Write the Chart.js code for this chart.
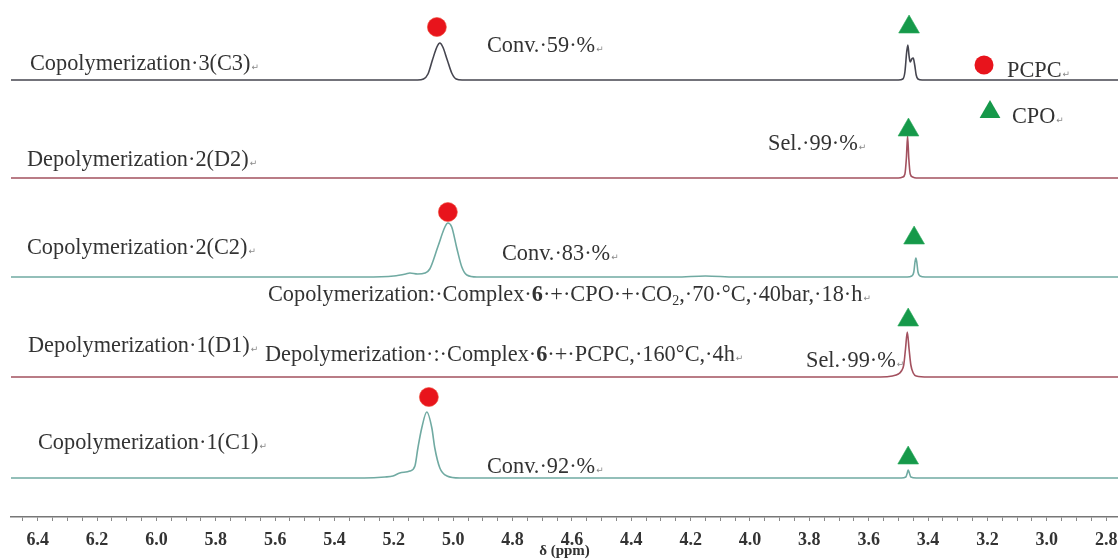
<!DOCTYPE html>
<html><head><meta charset="utf-8">
<script src="https://cdn.jsdelivr.net/npm/chart.js@4"></script>
<style>html,body{margin:0;padding:0;background:#fff}#wrap{width:1118px;height:560px}</style>
</head><body><div id="wrap"><canvas id="c" width="1118" height="560"></canvas></div>
<script>
// ---------- DATA (chemical shift in ppm, intensity above each trace's own baseline) ----------
const traceNames = ['Copolymerization 3 (C3)', 'Depolymerization 2 (D2)', 'Copolymerization 2 (C2)', 'Depolymerization 1 (D1)', 'Copolymerization 1 (C1)'];

const c3Ppm = [6.49, 5.20, 5.12, 5.10, 5.085, 5.07, 5.055, 5.045, 5.035, 5.02, 5.005, 4.99, 4.97, 3.50, 3.485, 3.478, 3.472, 3.468, 3.464, 3.460, 3.455, 3.450, 3.445, 3.440, 3.434, 3.42, 2.76];
const c3Int = [0, 0, 0, 1, 6, 20, 33, 37, 33, 20, 7, 1, 0, 0, 1, 8, 28, 35, 24, 18, 21, 22, 15, 5, 1, 0, 0];

const d2Ppm = [6.49, 3.50, 3.485, 3.478, 3.473, 3.469, 3.465, 3.460, 3.452, 3.44, 2.76];
const d2Int = [0, 0, 1, 4, 20, 42, 20, 4, 1, 0, 0];

const c2Ppm = [6.49, 5.30, 5.20, 5.16, 5.146, 5.12, 5.095, 5.079, 5.052, 5.028, 5.018, 5.005, 4.988, 4.971, 4.954, 4.92, 4.25, 4.15, 4.05, 3.47, 3.455, 3.448, 3.444, 3.441, 3.438, 3.434, 3.427, 3.41, 2.76];
const c2Int = [0, 0, 1, 3, 4, 3, 4, 8, 30, 50, 54, 50, 29, 10, 2, 0, 0, 1, 0, 0, 1, 5, 15, 19, 15, 5, 1, 0, 0];

const d1Ppm = [6.49, 3.56, 3.52, 3.50, 3.49, 3.482, 3.476, 3.470, 3.464, 3.458, 3.45, 3.44, 3.40, 2.76];
const d1Int = [0, 0, 1, 3, 6, 12, 28, 45, 28, 12, 4, 1, 0, 0];

const c1Ppm = [6.49, 5.30, 5.23, 5.203, 5.18, 5.146, 5.129, 5.119, 5.106, 5.089, 5.072, 5.062, 5.045, 5.021, 4.978, 3.49, 3.475, 3.470, 3.467, 3.463, 3.458, 3.44, 2.76];
const c1Int = [0, 0, 1, 2, 5, 7, 12, 30, 50, 66, 50, 30, 10, 2, 0, 0, 1, 5, 8, 5, 1, 0, 0];

// PCPC (red circle) and CPO (green triangle) peak markers: trace index, ppm, height above baseline
const pcpcTrace = [0, 2, 4];
const pcpcPpm = [5.055, 5.018, 5.082];
const pcpcHeight = [53, 65, 81];

const cpoTrace = [0, 1, 2, 3, 4];
const cpoPpm = [3.464, 3.466, 3.447, 3.467, 3.467];
const cpoHeight = [53, 48, 39, 57, 20];

const tickLabels = ['6.4','6.2','6.0','5.8','5.6','5.4','5.2','5.0','4.8','4.6','4.4','4.2','4.0','3.8','3.6','3.4','3.2','3.0','2.8'];

// ---------- LAYOUT / STYLE ----------
const X_MIN = 2.76, X_MAX = 6.49;
const traceBaseline = [437, 339, 240, 140, 39];   // vertical stacking offset of each trace
const traceColor = ['#45454f', '#a3515f', '#70aaa2', '#a3515f', '#70aaa2'];
const tracePpm = [c3Ppm, d2Ppm, c2Ppm, d1Ppm, c1Ppm];
const traceInt = [c3Int, d2Int, c2Int, d1Int, c1Int];

const datasets = tracePpm.map((ppm, t) => ({
  label: traceNames[t],
  data: ppm.map((p, i) => ({x: p, y: traceInt[t][i] + traceBaseline[t]})),
  borderColor: traceColor[t],
  borderWidth: 1.6,
  pointRadius: 0,
  fill: false,
  cubicInterpolationMode: 'monotone',
  clip: false,
  order: 2
}));
datasets.push({
  label: 'PCPC',
  data: pcpcPpm.map((p, i) => ({x: p, y: pcpcHeight[i] + traceBaseline[pcpcTrace[i]]})),
  showLine: false, pointStyle: 'circle', pointRadius: 9.5,
  pointBackgroundColor: '#e8141c', pointBorderColor: 'rgba(240,80,60,0.6)', pointBorderWidth: 1,
  clip: false, order: 1
});
datasets.push({
  label: 'CPO',
  data: cpoPpm.map((p, i) => ({x: p, y: cpoHeight[i] + traceBaseline[cpoTrace[i]]})),
  showLine: false, pointStyle: 'triangle', pointRadius: 12,
  pointBackgroundColor: '#16994a', pointBorderColor: 'rgba(40,170,90,0.6)', pointBorderWidth: 1,
  clip: false, order: 1
});

// text annotations: [x, baseline y, parts]
const SERIF = '"Liberation Serif", "Times New Roman", serif';
const annotations = [
  [30, 70, [['Copolymerization·3(C3)']]],
  [487, 52, [['Conv.·59·%']]],
  [1007, 77, [['PCPC']]],
  [1012, 123, [['CPO']]],
  [27, 166, [['Depolymerization·2(D2)']]],
  [768, 150, [['Sel.·99·%']]],
  [27, 254, [['Copolymerization·2(C2)']]],
  [502, 260, [['Conv.·83·%']]],
  [268, 301, [['Copolymerization:·Complex·'], ['6', 'b'], ['·+·CPO·+·CO'], ['2', 'sub'], [',·70·°C,·40bar,·18·h']]],
  [28, 352, [['Depolymerization·1(D1)']]],
  [265, 361, [['Depolymerization·:·Complex·'], ['6', 'b'], ['·+·PCPC,·160°C,·4h']]],
  [806, 367, [['Sel.·99·%']]],
  [38, 449, [['Copolymerization·1(C1)']]],
  [487, 473, [['Conv.·92·%']]]
];

const textPlugin = {
  id: 'texts',
  afterDraw(chart) {
    const ctx = chart.ctx;
    ctx.save();
    ctx.textBaseline = 'alphabetic';
    ctx.textAlign = 'left';
    const size = 22.3;
    annotations.forEach(([x, y, parts]) => {
      let cx = x;
      parts.forEach(([txt, st]) => {
        let fs = size, dy = 0, w = '';
        if (st === 'b') w = 'bold ';
        if (st === 'sub') { fs = 14; dy = 4; }
        ctx.font = w + fs + 'px ' + SERIF;
        ctx.fillStyle = '#333';
        ctx.fillText(txt, cx, y + dy);
        cx += ctx.measureText(txt).width;
      });
      ctx.font = '9px "DejaVu Sans"';
      ctx.fillStyle = '#888';
      ctx.fillText('↵', cx + 1, y);
    });
    // legend markers
    ctx.fillStyle = '#e8141c';
    ctx.beginPath(); ctx.arc(984, 65, 9.5, 0, Math.PI * 2); ctx.fill();
    ctx.fillStyle = '#16994a';
    const r = 12, tx = 990, ty = 112;
    ctx.beginPath();
    ctx.moveTo(tx, ty - r);
    ctx.lineTo(tx + 0.866 * r, ty + r / 2);
    ctx.lineTo(tx - 0.866 * r, ty + r / 2);
    ctx.closePath(); ctx.fill();
    ctx.restore();
  }
};

// tick positions: every 0.05 ppm
const tickValues = [];
for (let i = 0; i <= 73; i++) tickValues.push(+(6.45 - 0.05 * i).toFixed(2));

new Chart(document.getElementById('c'), {
  type: 'line',
  data: { datasets },
  options: {
    responsive: false,
    animation: false,
    devicePixelRatio: 1,
    layout: { autoPadding: false, padding: { left: 11, right: 0, top: 0, bottom: 0 } },
    plugins: { legend: { display: false }, tooltip: { enabled: false } },
    scales: {
      x: {
        type: 'linear', reverse: true, min: X_MIN, max: X_MAX,
        afterFit(s) { s.height = 43; s.paddingLeft = 0; s.paddingRight = 0; },
        afterBuildTicks(s) { s.ticks = tickValues.map(v => ({ value: v })); },
        ticks: {
          autoSkip: false, maxRotation: 0, padding: 9, color: '#333',
          font: { family: SERIF, size: 18, weight: 'bold' },
          callback(v) {
            const k = v * 5;
            if (Math.abs(k - Math.round(k)) < 1e-6) {
              const s = v.toFixed(1);
              return tickLabels.includes(s) ? s : '';
            }
            return '';
          }
        },
        grid: { drawOnChartArea: false, tickLength: 4, tickWidth: 1, tickColor: '#888' },
        border: { color: '#777', width: 1.5 },
        title: { display: true, text: 'δ (ppm)', color: '#333', padding: 0,
                 font: { family: SERIF, size: 15, weight: 'bold' } }
      },
      y: { display: false, min: 0, max: 517 }
    }
  },
  plugins: [textPlugin]
});
</script></body></html>
